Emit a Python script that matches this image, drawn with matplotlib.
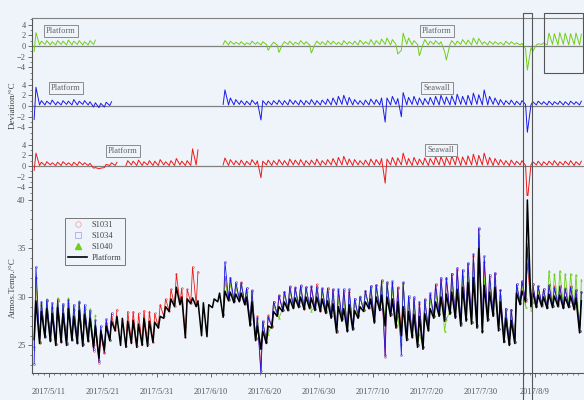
import datetime as dt
import numpy as np
import matplotlib
matplotlib.use("Agg")
import matplotlib.pyplot as plt
import matplotlib.dates as mdates
from matplotlib.lines import Line2D
from matplotlib.patches import Rectangle
from matplotlib.ticker import MultipleLocator, FuncFormatter

nan = float("nan")

# ---- daily readings, 2017-05-08 .. 2017-08-17 ----
start_date = dt.datetime(2017, 5, 8)

platform_high = [
    29.6, 28.5, 28.8, 28.3, 28.9, 28.3, 28.8, 28.0, 28.6, 28.2,
    27.8, 27.0, 26.5, 27.0, 27.5, 28.0, 27.8, 27.5, 27.6, 27.2,
    27.8, 27.5, 27.4, 28.0, 29.0, 29.8, 31.0, 30.0, 29.8, 29.9,
    29.6, 29.4, 29.2, 29.8, 30.4, 30.6, 30.5, 30.3, 30.4, 30.0,
    29.5, 27.0, 26.5, 27.0, 28.5, 29.0, 29.5, 29.8, 29.9, 30.0,
    30.0, 29.9, 30.0, 29.8, 29.6, 29.3, 29.0, 28.8, 29.2, 28.6,
    29.0, 29.5, 29.8, 30.0, 30.2, 30.0, 29.8, 29.5, 29.0, 28.5,
    28.2, 28.0, 28.3, 28.8, 29.5, 30.0, 30.3, 30.5, 30.8, 31.0,
    31.5, 32.0, 35.0, 31.2, 30.5, 31.0, 29.5, 27.8, 27.6, 30.4,
    30.6, 40.0, 30.5, 30.2, 30.0, 30.3, 30.1, 30.2, 30.0, 30.1,
    29.9, 29.6,
]
platform_low = [
    25.6, 25.2, 25.8, 25.4, 25.0, 25.3, 25.0, 25.5, 25.2, 24.9,
    25.4, 24.8, 23.7, 24.5, 25.5, 26.5, 25.0, 24.8, 25.2, 24.8,
    25.0, 24.9, 25.3, 26.8, 27.8, 28.5, 29.0, 29.2, 25.8, 29.3,
    29.0, 26.0, 25.9, 28.9, 29.5, 27.9, 29.6, 29.4, 29.5, 29.2,
    27.0, 25.5, 24.6, 25.2, 26.8, 28.0, 28.5, 28.6, 28.8, 28.9,
    28.7, 28.8, 28.6, 28.5, 28.3, 27.8, 26.3, 27.5, 26.4, 26.6,
    27.8, 28.5, 28.8, 27.3, 28.6, 27.0, 28.0, 26.8, 26.0, 25.5,
    25.8, 24.8, 24.6, 26.5, 27.8, 28.0, 27.5, 28.2, 27.8, 27.0,
    27.5, 27.2, 26.8, 26.3, 27.5, 28.0, 26.5, 25.3, 25.0, 25.2,
    29.2, 29.5, 29.0, 28.9, 29.0, 28.8, 28.9, 29.0, 28.8, 28.9,
    28.7, 26.3,
]

# sensor minus platform, night reading and midday reading
s1040_night = [
    -1.0, 0.2, 0.3, 0.2, 0.2, 0.3, 0.2, 0.2, 0.3, 0.2,
    0.2, 0.3, nan, nan, nan, nan, nan, nan, nan, nan,
    nan, nan, nan, nan, nan, nan, nan, nan, nan, nan,
    nan, nan, nan, nan, nan, 0.3, 0.2, 0.3, 0.3, 0.2,
    0.3, 0.3, 0.2, 0.3, 0.3, 0.2, 0.3, 0.3, 0.2, 0.3,
    0.3, 0.2, 0.3, 0.3, 0.2, 0.3, 0.3, 0.2, 0.3, 0.3,
    0.2, 0.3, 0.3, 0.2, 0.3, 0.3, 0.2, 0.3, -0.8, 0.3,
    0.2, 0.3, 0.3, 0.2, 0.3, 0.3, -1.0, 0.3, 0.2, 0.3,
    0.3, 0.2, 0.3, 0.3, 0.2, 0.3, 0.3, 0.2, 0.3, 0.3,
    0.2, -0.5, -0.3, 0.2, 0.3, 0.2, 0.3, 0.2, 0.3, 0.2,
    0.3, 0.2,
]
s1040_noon = [
    2.5, 0.9, 1.0, 0.8, 1.0, 0.9, 1.1, 0.9, 1.0, 0.8,
    1.0, 1.1, nan, nan, nan, nan, nan, nan, nan, nan,
    nan, nan, nan, nan, nan, nan, nan, nan, nan, nan,
    nan, nan, nan, nan, nan, 1.0, 0.9, 0.7, 0.8, 0.6,
    0.9, 0.7, 0.8, -0.8, 0.7, -1.2, 0.8, 0.9, 0.7, 1.0,
    0.8, -1.3, 0.9, 0.8, 1.0, 0.9, 0.7, 1.0, 0.8, 0.9,
    1.1, 0.8, 1.2, 1.0, 1.3, 1.5, 1.2, -1.5, 2.4, 1.5,
    1.0, -1.8, 1.2, 0.9, 1.0, 0.8, -2.6, 1.0, 0.9, 1.2,
    1.1, 1.5, 1.4, 0.8, 0.9, 0.8, 0.7, 0.9, 0.8, 0.6,
    0.5, -4.5, -1.0, 0.4, 0.6, 2.4, 2.3, 2.5, 2.4, 2.3,
    2.4, 2.2,
]
s1034_night = [
    -2.5, 0.2, 0.2, 0.3, 0.2, 0.2, 0.3, 0.2, 0.2, 0.3,
    0.2, -0.2, -0.3, -0.2, 0.1, nan, nan, nan, nan, nan,
    nan, nan, nan, nan, nan, nan, nan, nan, nan, nan,
    nan, nan, nan, nan, nan, 0.3, 0.2, 0.2, 0.3, 0.2,
    0.2, 0.3, -2.6, 0.2, 0.2, 0.3, 0.2, 0.2, 0.3, 0.2,
    0.2, 0.3, 0.2, 0.2, 0.3, 0.2, 0.2, 0.3, 0.2, 0.2,
    0.3, 0.2, 0.2, 0.3, 0.2, -3.0, 0.2, 0.3, -2.0, 0.2,
    0.3, 0.2, 0.2, 0.3, 0.2, 0.2, 0.3, 0.2, 0.2, 0.3,
    0.2, 0.2, 0.3, 0.2, 0.2, 0.3, 0.2, 0.2, 0.3, 0.2,
    0.2, 0.3, 0.2, 0.2, 0.3, 0.2, 0.2, 0.3, 0.2, 0.2,
    0.3, 0.2,
]
s1034_noon = [
    3.5, 1.0, 0.9, 1.1, 0.8, 1.0, 0.9, 1.2, 0.9, 1.0,
    0.8, 0.6, 0.5, 0.7, 0.8, nan, nan, nan, nan, nan,
    nan, nan, nan, nan, nan, nan, nan, nan, nan, nan,
    nan, nan, nan, nan, nan, 3.0, 1.5, 1.2, 1.0, 0.9,
    1.1, 0.8, 1.0, 0.9, 1.0, 1.1, 1.0, 1.2, 1.0, 1.1,
    1.0, 1.2, 1.0, 1.1, 1.3, 1.5, 1.8, 2.0, 1.6, 1.2,
    1.0, 1.1, 1.3, 1.2, 1.5, 1.5, 1.8, 1.4, 2.5, 1.6,
    1.8, 1.5, 1.4, 1.6, 1.8, 2.0, 1.7, 1.9, 2.2, 1.8,
    2.0, 2.4, 2.1, 3.0, 1.8, 1.5, 1.2, 1.0, 1.1, 0.9,
    1.0, -4.9, 0.8, 0.9, 0.8, 0.9, 0.8, 0.9, 0.8, 0.9,
    0.8, 0.9,
]
s1031_night = [
    -0.8, 0.1, 0.1, 0.2, 0.1, 0.1, 0.2, 0.1, 0.1, 0.2,
    0.1, -0.4, -0.5, -0.3, 0.1, 0.1, nan, 0.1, 0.2, 0.1,
    0.1, 0.2, 0.1, 0.1, 0.2, 0.1, 0.1, 0.2, 0.1, 0.1,
    0.2, nan, nan, nan, nan, 0.2, 0.1, 0.2, 0.2, 0.1,
    0.2, 0.2, -2.2, 0.2, 0.1, 0.2, 0.2, 0.1, 0.2, 0.2,
    0.1, 0.2, 0.2, 0.1, 0.2, 0.2, 0.1, 0.2, 0.2, 0.1,
    0.2, 0.2, 0.1, 0.2, 0.2, -3.2, 0.2, 0.1, 0.2, 0.2,
    0.1, 0.2, 0.2, 0.1, 0.2, 0.2, 0.1, 0.2, 0.2, 0.1,
    0.2, 0.2, 0.1, 0.2, 0.2, 0.1, 0.2, 0.2, 0.1, 0.2,
    0.2, 0.1, 0.2, 0.2, 0.1, 0.2, 0.2, 0.1, 0.2, 0.2,
    0.1, 0.2,
]
s1031_noon = [
    2.4, 0.7, 0.8, 0.6, 0.7, 0.8, 0.6, 0.7, 0.8, 0.6,
    0.5, -0.3, -0.4, 0.3, 0.6, 0.7, nan, 1.0, 0.9, 1.1,
    0.8, 1.0, 0.9, 1.2, 0.8, 1.0, 1.4, 0.9, 1.0, 3.2,
    3.0, nan, nan, nan, nan, 1.5, 1.2, 1.0, 1.1, 0.9,
    1.2, 1.0, 0.9, 1.1, 1.0, 1.2, 1.0, 1.3, 1.1, 1.2,
    1.0, 1.1, 1.3, 1.0, 1.2, 1.4, 1.6, 1.8, 1.3, 1.2,
    1.0, 1.1, 1.3, 1.2, 1.4, 1.3, 1.6, 1.5, 2.4, 1.4,
    1.6, 1.3, 1.5, 1.4, 1.7, 1.8, 1.6, 1.9, 2.0, 1.7,
    1.9, 2.2, 2.0, 2.4, 1.6, 1.4, 1.2, 1.0, 1.1, 0.9,
    1.0, -6.5, 0.8, 0.9, 0.8, 0.9, 1.0, 0.8, 0.9, 1.0,
    0.8, 0.9,
]

series_names = ["S1031", "S1034", "S1040", "Platform"]
tick_dates = ["2017/5/11", "2017/5/21", "2017/5/31", "2017/6/10", "2017/6/20",
              "2017/6/30", "2017/7/10", "2017/7/20", "2017/7/30", "2017/8/9"]

# ---- assemble time series (night reading 06:00, midday reading 14:00) ----
n_days = len(platform_high)
day0 = [start_date + dt.timedelta(days=i) for i in range(n_days)]
t_night = [d + dt.timedelta(hours=6) for d in day0]
t_noon = [d + dt.timedelta(hours=14) for d in day0]


def interleave(a, b):
    out = np.empty(2 * len(a), dtype=object if isinstance(a[0], dt.datetime) else float)
    out[0::2] = a
    out[1::2] = b
    return out


t = mdates.date2num(list(interleave(t_night, t_noon)))
platform = interleave(platform_low, platform_high)
dev_1031 = interleave(s1031_night, s1031_noon)
dev_1034 = interleave(s1034_night, s1034_noon)
dev_1040 = interleave(s1040_night, s1040_noon)

# ---- styling ----
BG = "#eef4fa"
GREEN = "#6fcf16"
BLUE = "#1a1aee"
RED = "#f01818"
SPINE = "#555555"
plt.rcParams["font.family"] = ["Liberation Serif", "DejaVu Serif"]
plt.rcParams["font.size"] = 6
plt.rcParams["axes.edgecolor"] = SPINE
plt.rcParams["xtick.color"] = SPINE
plt.rcParams["ytick.color"] = SPINE
plt.rcParams["text.color"] = "#444444"

W, H = 584, 400
fig = plt.figure(figsize=(W / 100, H / 100), dpi=100, facecolor=BG)


def add_axes_px(top, bottom, left=32, right=584):
    return fig.add_axes([left / W, 1 - bottom / H, (right - left) / W, (bottom - top) / H],
                        facecolor=BG)


x_lo = mdates.date2num(start_date) - 0.15
x_hi = x_lo + (584 - 32) / 5.4

panels = [
    (18, 76, 5.23, -5.6, dev_1040, GREEN, True),
    (76, 136, 5.6, -5.6, dev_1034, BLUE, False),
    (136, 196, 5.6, -5.6, dev_1031, RED, False),
]
dev_axes = []
for top, bot, ytop, ybot, dev, col, show_top in panels:
    ax = add_axes_px(top, bot)
    ax.axhline(0, color="#808080", lw=0.9, zorder=1)
    ax.plot(t, dev, color=col, lw=0.7, zorder=2)
    ax.set_xlim(x_lo, x_hi)
    ax.set_ylim(ybot, ytop)
    ax.set_yticks([-4, -2, 0, 2, 4])
    ax.yaxis.set_minor_locator(MultipleLocator(1))
    ax.tick_params(axis="y", which="major", length=3, width=0.6, pad=1.5, labelsize=6)
    ax.tick_params(axis="y", which="minor", length=1.5, width=0.5)
    ax.tick_params(axis="x", which="both", bottom=False, labelbottom=False)
    for side in ("right", "bottom"):
        ax.spines[side].set_visible(False)
    ax.spines["top"].set_visible(show_top)
    ax.spines["top"].set_color("#808080")
    ax.spines["left"].set_linewidth(0.8)
    dev_axes.append(ax)

# ---- temperature panel ----
axT = add_axes_px(196, 373)
s1031 = platform + dev_1031
s1034 = platform + dev_1034
s1040 = platform + dev_1040
axT.plot(t, s1031, color=RED, lw=0.6, marker="o", ms=1.2, mew=0.3, mfc="none", zorder=2)
axT.plot(t, s1040, color=GREEN, lw=0.6, marker="^", ms=1.3, mew=0.3, zorder=3)
axT.plot(t, s1034, color=BLUE, lw=0.6, marker="s", ms=1.1, mew=0.3, mfc="none", zorder=4)
axT.plot(t, platform, color="black", lw=1.1, zorder=5)
axT.set_xlim(x_lo, x_hi)
axT.set_ylim(22.16, 40.41)
axT.set_yticks([25, 30, 35, 40])
axT.yaxis.set_minor_locator(MultipleLocator(1))
for side in ("right", "top"):
    axT.spines[side].set_visible(False)
axT.spines["left"].set_linewidth(0.8)
axT.spines["bottom"].set_linewidth(0.8)

ticks = [mdates.date2num(dt.datetime.strptime(s, "%Y/%m/%d")) for s in tick_dates]
axT.set_xticks(ticks)
axT.set_xticklabels(tick_dates)
axT.xaxis.set_minor_locator(mdates.DayLocator())
axT.tick_params(axis="both", which="major", length=3, width=0.6, labelsize=6)
axT.tick_params(axis="both", which="minor", length=1.5, width=0.5)
axT.tick_params(axis="x", pad=8)
axT.tick_params(axis="y", pad=1.5)

handles = [
    Line2D([], [], ls="none", marker="o", ms=4, mfc="none", mec="#f2a6a6", mew=0.6),
    Line2D([], [], ls="none", marker="s", ms=4, mfc="none", mec="#a9a9f0", mew=0.6),
    Line2D([], [], ls="none", marker="^", ms=4, mfc=GREEN, mec=GREEN),
    Line2D([], [], color="black", lw=1.2),
]
leg = fig.legend(handles, series_names, loc="upper left",
                 bbox_to_anchor=(65 / W, 1 - 218 / H), frameon=True, fancybox=False,
                 edgecolor="#777777", facecolor=BG, framealpha=1, fontsize=6,
                 handlelength=2.2, labelspacing=0.35, borderpad=0.4, handletextpad=0.6,
                 borderaxespad=0)
leg.get_frame().set_linewidth(0.7)

# ---- axis titles ----
fig.text(13 / W, 1 - 105 / H, "Deviation/°C", rotation=90, ha="center", va="center",
         fontsize=6.5)
fig.text(13 / W, 1 - 288 / H, "Atmos.Temp./°C", rotation=90, ha="center", va="center",
         fontsize=6.5)

# ---- panel tags ----
box = dict(boxstyle="square,pad=0.25", fc=BG, ec="#8a8a8a", lw=0.7)
tags = [
    (61, 31, "Platform"), (437, 31, "Platform"),
    (66, 88, "Platform"), (437, 88, "Seawall"),
    (123, 151, "Platform"), (441, 150, "Seawall"),
]
for x, y, s in tags:
    fig.text(x / W, 1 - y / H, s, ha="center", va="center", fontsize=6,
             color="#666666", bbox=box)

# ---- highlight frames ----
fig.add_artist(Rectangle((523 / W, -0.01), 9 / W, 1 - 13 / H + 0.01,
                         transform=fig.transFigure, fill=False, ec="#555555", lw=0.8))
fig.add_artist(Rectangle((544 / W, 1 - 73 / H), 39 / W, 60 / H,
                         transform=fig.transFigure, fill=False, ec="#555555", lw=0.8))

fig.savefig("out.png", dpi=100, facecolor=BG)
